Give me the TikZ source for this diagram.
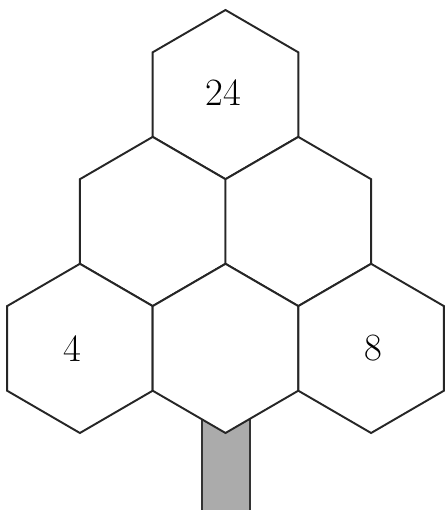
\documentclass[tikz,border=0pt]{standalone}
\begin{document}
\begin{tikzpicture}[x=0.02cm,y=-0.02cm,
  cell/.style={draw=black!85,line width=1.1pt,fill=white},
  trunk/.style={draw=black!80,line width=1.1pt,fill=black!33},
  num/.style={font=\fontsize{22}{26}\selectfont}]
\useasboundingbox (0,0) rectangle (444,510);
\draw[trunk] (202,400) rectangle (250,520);
\foreach \n/\cx/\cy in {top/225.5/94.6, ml/152.7/221.5, mr/298.3/221.5, bl/79.9/348.4, bc/225.5/348.4, br/371.1/348.4}{
  \draw[cell] (\cx,\cy-84.6) -- (\cx+72.8,\cy-42.3) -- (\cx+72.8,\cy+42.3) -- (\cx,\cy+84.6)
    -- (\cx-72.8,\cy+42.3) -- (\cx-72.8,\cy-42.3) -- cycle;
  \coordinate (\n) at (\cx,\cy);
}
\node[num] (n24) at ([shift={(-2.5,-2.5)}]top) {24};
\node[num] (n4) at ([shift={(-8,0)}]bl) {4};
\node[num] (n8) at ([shift={(2,0)}]br) {8};
\end{tikzpicture}
\end{document}
